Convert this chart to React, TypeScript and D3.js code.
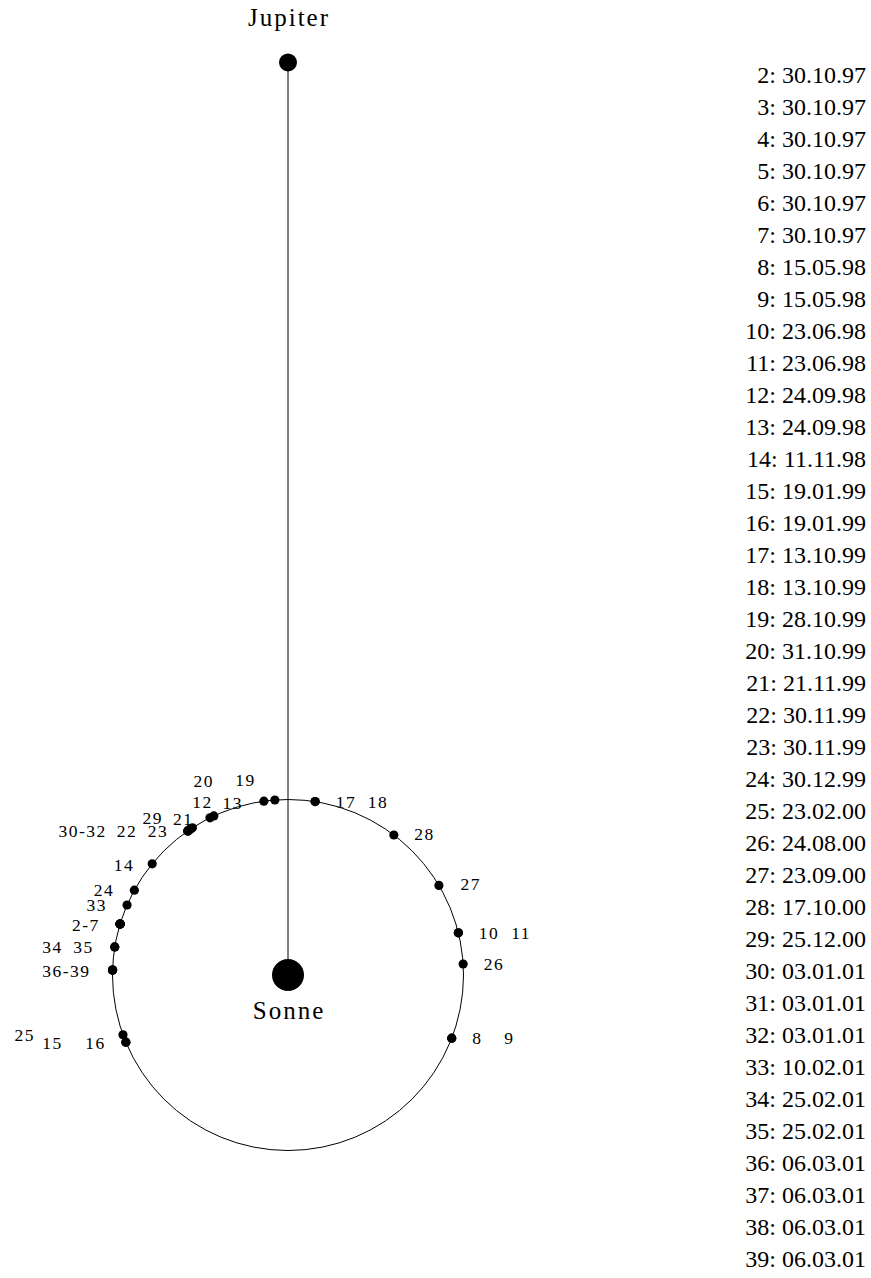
import React from "react";
import * as d3 from "d3";

// Measurement numbers and dates (right-hand list)
const ids: number[] = [2,3,4,5,6,7,8,9,10,11,12,13,14,15,16,17,18,19,20,21,22,23,24,25,26,27,28,29,30,31,32,33,34,35,36,37,38,39];
const dates: string[] = [
  "30.10.97","30.10.97","30.10.97","30.10.97","30.10.97","30.10.97",
  "15.05.98","15.05.98","23.06.98","23.06.98","24.09.98","24.09.98",
  "11.11.98","19.01.99","19.01.99","13.10.99","13.10.99","28.10.99",
  "31.10.99","21.11.99","30.11.99","30.11.99","30.12.99","23.02.00",
  "24.08.00","23.09.00","17.10.00","25.12.00","03.01.01","03.01.01",
  "03.01.01","10.02.01","25.02.01","25.02.01","06.03.01","06.03.01",
  "06.03.01","06.03.01"
];
// Earth's position angle (deg, clockwise from Sun→Jupiter direction) for each measurement
const angles: number[] = [
  -73.1,-73.1,-73.1,-73.1,-73.1,-73.1,
  111.1,111.1,76.1,76.1,-25.0,-26.4,
  -50.7,-112.5,-112.5,8.9,8.9,-4.3,
  -7.9,-33.0,-34.2,-34.2,-61.1,-109.9,
  86.4,59.3,37.1,-33.6,-34.8,-34.8,
  -34.8,-66.5,-80.8,-80.8,-88.4,-88.4,
  -88.4,-88.4
];
const earthOrbitAU = 1;
const jupiterAU = 5.2;

// Label layout: text, anchor measurement, offset from its dot (px)
const labels: { text: string; anchor: number; dx: number; dy: number }[] = [
  { text: "20", anchor: 20, dx: -61, dy: -20 },
  { text: "19", anchor: 19, dx: -30, dy: -20 },
  { text: "12", anchor: 12, dx: -12, dy: -14 },
  { text: "13", anchor: 13, dx: 22, dy: -15 },
  { text: "29", anchor: 29, dx: -39, dy: -11 },
  { text: "21", anchor: 21, dx: -10, dy: -9 },
  { text: "30-32", anchor: 30, dx: -106, dy: 0 },
  { text: "22", anchor: 22, dx: -63, dy: 1 },
  { text: "23", anchor: 23, dx: -32, dy: 1 },
  { text: "14", anchor: 14, dx: -29, dy: 1 },
  { text: "24", anchor: 24, dx: -31, dy: 0 },
  { text: "33", anchor: 33, dx: -31, dy: 0 },
  { text: "2-7", anchor: 2, dx: -35, dy: 1 },
  { text: "34", anchor: 34, dx: -63, dy: 0 },
  { text: "35", anchor: 35, dx: -32, dy: 0 },
  { text: "36-39", anchor: 36, dx: -47, dy: 1 },
  { text: "25", anchor: 25, dx: -99, dy: 0 },
  { text: "15", anchor: 15, dx: -74, dy: 1 },
  { text: "16", anchor: 16, dx: -31, dy: 1 },
  { text: "17", anchor: 17, dx: 30, dy: 0 },
  { text: "18", anchor: 18, dx: 62, dy: 0 },
  { text: "28", anchor: 28, dx: 30, dy: -1 },
  { text: "27", anchor: 27, dx: 31, dy: -1 },
  { text: "10", anchor: 10, dx: 30, dy: 0 },
  { text: "11", anchor: 11, dx: 62, dy: 0 },
  { text: "26", anchor: 26, dx: 30, dy: 0 },
  { text: "8", anchor: 8, dx: 25, dy: 0 },
  { text: "9", anchor: 9, dx: 57, dy: 0 },
];

const W = 871;
const H = 1278;
const cx = 288;
const cy = 975;

export default function App() {
  const rScale = d3.scaleLinear().domain([0, earthOrbitAU]).range([0, 175.5]);
  const aScale = d3.scaleLinear().domain([0, 360]).range([0, 2 * Math.PI]);
  const R = rScale(earthOrbitAU);
  const pos = (a: number, r: number) => {
    const [x, y] = d3.pointRadial(aScale(a), r);
    return [cx + x, cy + y];
  };
  const [jx, jy] = pos(0, rScale(jupiterAU));
  const listY = d3.scaleLinear().domain([0, ids.length - 1]).range([83, 83 + 32 * (ids.length - 1)]);
  const serif = "'Liberation Serif', 'Times New Roman', serif";
  const ls = 1.5;
  return (
    <svg width={W} height={H} style={{ position: "absolute", left: 0, top: 0, background: "#fff" }}>
      <circle cx={cx} cy={cy} r={R} fill="none" stroke="#000" strokeWidth={1} />
      <line x1={cx} y1={cy} x2={jx} y2={jy} stroke="#000" strokeWidth={1} />
      <circle cx={jx} cy={jy} r={9} fill="#000" />
      <circle cx={cx} cy={cy} r={16} fill="#000" />
      <text x={jx + 1} y={jy - 36} textAnchor="middle" fontFamily={serif} fontSize={25} letterSpacing={2}>Jupiter</text>
      <text x={cx + 1} y={cy + 44} textAnchor="middle" fontFamily={serif} fontSize={25} letterSpacing={2}>Sonne</text>
      {ids.map((id, i) => {
        const [x, y] = pos(angles[i], R);
        return <circle key={"d" + id} cx={x} cy={y} r={4.6} fill="#000" />;
      })}
      {labels.map((l, i) => {
        const k = ids.indexOf(l.anchor);
        const [x, y] = pos(angles[k], R);
        return (
          <text key={"l" + i} x={x + l.dx + ls / 2} y={y + l.dy + 6} textAnchor="middle"
            fontFamily={serif} fontSize={17.5} letterSpacing={ls}>{l.text}</text>
        );
      })}
      {ids.map((id, i) => (
        <text key={"t" + id} x={866} y={listY(i)} textAnchor="end" fontFamily={serif} fontSize={24}>
          {id}: {dates[i]}
        </text>
      ))}
    </svg>
  );
}
